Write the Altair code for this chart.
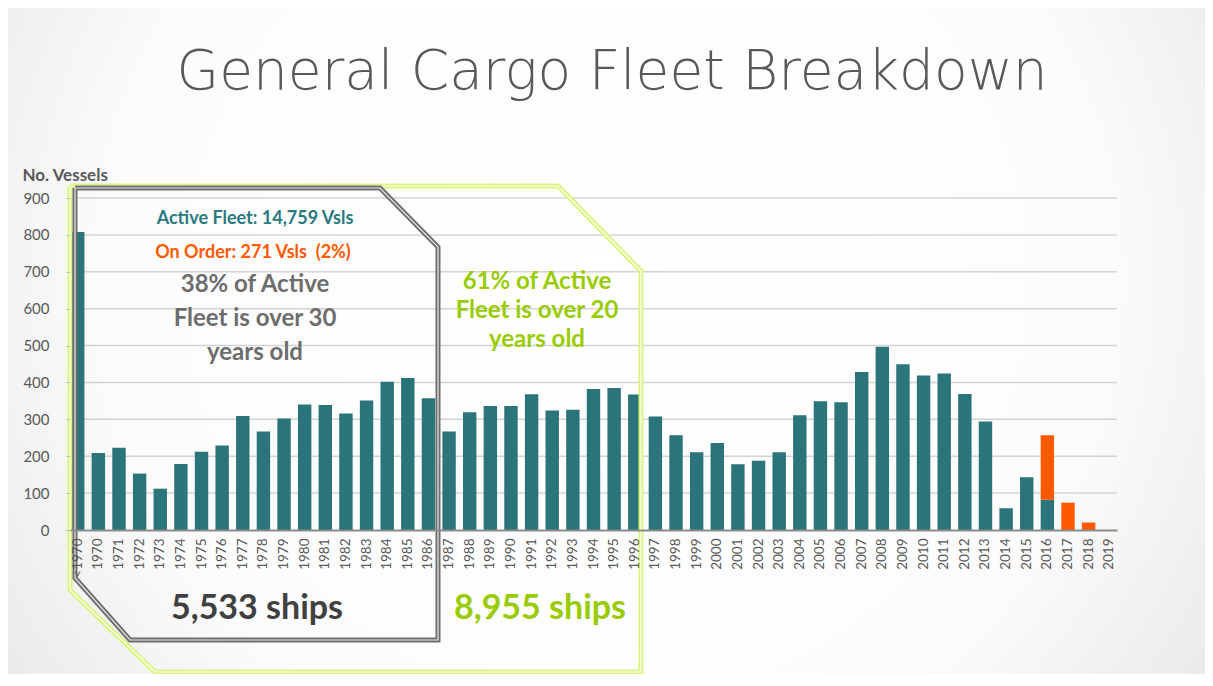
import altair as alt
import pandas as pd

# ---- data ----
years = ["<1970"] + [str(y) for y in range(1970, 2020)]
active = [808, 209, 223, 153, 112, 179, 212, 229, 309, 267, 302, 340, 339, 316, 351, 402, 412, 357,
          267, 319, 336, 336, 368, 324, 326, 382, 385, 367, 308, 257, 211, 236, 178, 188, 211, 311,
          349, 346, 428, 497, 449, 419, 424, 369, 294, 59, 143, 82, 0, 0, 0]
on_order = [0] * 47 + [175, 74, 20, 0]
series = ["Active Fleet", "On Order"]
series_colors = ["#2a747a", "#ff5a00"]
y_ticks = list(range(0, 1000, 100))

rows = []
for i, y in enumerate(years):
    rows.append({"year": y, "series": series[0], "vessels": active[i], "k": 0})
    rows.append({"year": y, "series": series[1], "vessels": on_order[i], "k": 1})
df = pd.DataFrame(rows)

W, H = 1047, 332
FONT = "Lato"
YSCALE = dict(domain=[0, 900], nice=False)

# background vignette
bg = alt.Chart(pd.DataFrame({"a": [0]})).mark_rect(
    color={"gradient": "radial", "x1": 0.5, "y1": 0.45, "r1": 0.0,
           "x2": 0.5, "y2": 0.45, "r2": 0.75,
           "stops": [{"offset": 0, "color": "#ffffff"},
                     {"offset": 0.55, "color": "#fcfcfc"},
                     {"offset": 1, "color": "#dcdcdc"}]}
).encode(x=alt.value(-62), x2=alt.value(W + 88), y=alt.value(-190), y2=alt.value(H + 144))

grid = alt.Chart(pd.DataFrame({"g": y_ticks[1:]})).mark_rule(color="#d4d4d4", strokeWidth=1.5).encode(
    y=alt.Y("g:Q", scale=alt.Scale(**YSCALE), axis=None),
    x=alt.value(0), x2=alt.value(W),
)

bars = alt.Chart(df).mark_bar().encode(
    x=alt.X("year:N", sort=years, title=None,
            scale=alt.Scale(paddingInner=0.35, paddingOuter=0.05),
            axis=alt.Axis(labelAngle=270, labelAlign="right", labelBaseline="middle",
                          labelPadding=8, ticks=False, domainColor="#8c8c8c", domainWidth=2,
                          labelColor="#595959", labelFontSize=13.5, labelFont=FONT,
                          grid=False, zindex=1)),
    y=alt.Y("vessels:Q", stack="zero", title="No. Vessels",
            scale=alt.Scale(**YSCALE),
            axis=alt.Axis(values=y_ticks, tickSize=4, tickColor="#bfbfbf", grid=False, zindex=1,
                          domain=False, labelPadding=17, labelFontSize=15, labelColor="#595959",
                          labelFont=FONT,
                          titleAngle=0, titleAlign="left", titleBaseline="middle",
                          titleX=-48, titleY=-23, titleFontSize=17, titleFont=FONT,
                          titleFontWeight="bold", titleColor="#595959")),
    color=alt.Color("series:N", scale=alt.Scale(domain=series, range=series_colors), legend=None),
    order=alt.Order("k:Q"),
)

# decorative double-line outlines (plot-pixel coordinates)
green_pts = [(0, -12), (488, -12), (571, 73), (571, 474), (85, 474), (0, 392), (0, -12)]
gray_pts = [(5, -10), (310, -10), (368, 49), (368, 442), (60, 442), (5, 380), (5, -10)]

def outline(pts, outer, inner, w_out, w_in):
    d = pd.DataFrame({"px": [p[0] for p in pts], "py": [p[1] for p in pts],
                      "o": list(range(len(pts)))})
    enc = dict(x=alt.X("px:Q", scale=None, axis=None),
               y=alt.Y("py:Q", scale=None, axis=None), order="o:Q")
    a = alt.Chart(d).mark_line(color=outer, strokeWidth=w_out, strokeJoin="miter").encode(**enc)
    b = alt.Chart(d).mark_line(color=inner, strokeWidth=w_in, strokeJoin="miter").encode(**enc)
    return [a, b]

def label(txt, x, y, size, color, weight="bold", font=FONT, lh=None):
    kw = dict(fontSize=size, color=color, fontWeight=weight, font=font,
              align="center", baseline="middle")
    if lh:
        kw["lineHeight"] = lh
    return alt.Chart(pd.DataFrame({"a": [0]})).mark_text(**kw).encode(
        x=alt.value(x), y=alt.value(y), text=alt.value(txt))

texts = [
    label("General Cargo Fleet Breakdown", 542, -126, 55, "#595959", weight=200, font="DejaVu Sans"),
    label("Active Fleet: 14,759 Vsls", 185, 21, 18, "#2a7a82"),
    label("On Order: 271 Vsls \u00a0(2%)", 183, 55, 18, "#ff5a00"),
    label(["38% of Active", "Fleet is over 30", "years old"], 185, 87, 24, "#6d6d6d", lh=34),
    label(["61% of Active", "Fleet is over 20", "years old"], 467, 84, 24, "#99cc00", lh=29),
    label("5,533 ships", 187, 411, 34, "#404040"),
    label("8,955 ships", 470, 411, 34, "#99cc00"),
]

layers = [bg, grid, bars] + outline(green_pts, "#d9f57f", "#ffffff", 5, 1.2) \
    + outline(gray_pts, "#6e6e6e", "#e6e6e6", 5, 1.2) + texts

chart = alt.layer(*layers).resolve_scale(x="independent", y="independent").properties(
    width=W, height=H,
    padding={"left": 62, "top": 190, "right": 88, "bottom": 144},
    autosize=alt.AutoSizeParams(type="none"),
    background="#f4f4f4",
).configure_view(strokeWidth=0)

chart.save("out.html", embed_options={"renderer": "svg", "actions": False})
